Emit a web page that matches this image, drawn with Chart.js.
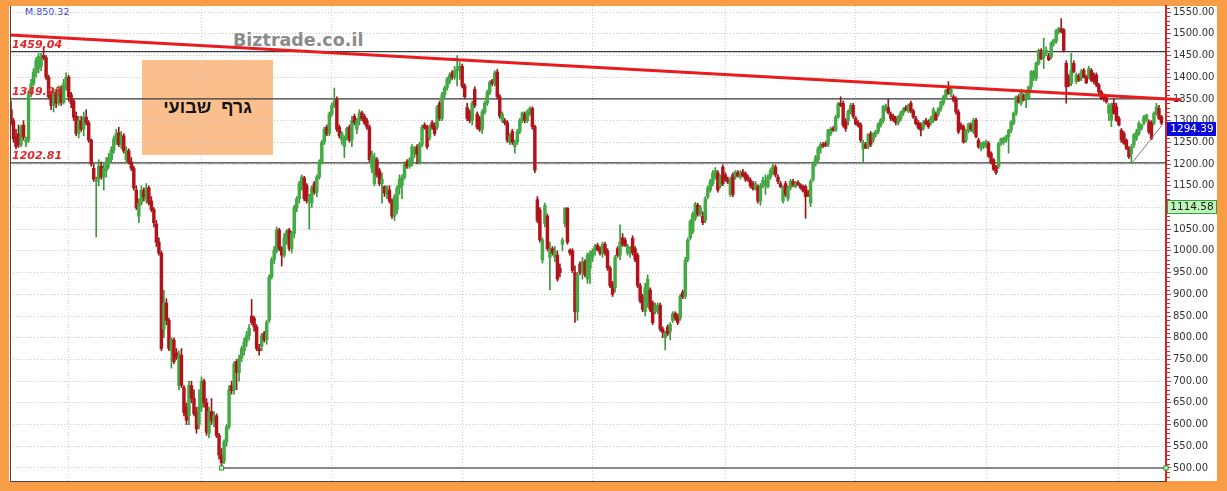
<!DOCTYPE html>
<html><head><meta charset="utf-8">
<script src="https://cdn.jsdelivr.net/npm/chart.js@4.4.1/dist/chart.umd.min.js"></script>
<style>
html,body{margin:0;padding:0;background:#f89c45;width:1227px;height:491px;overflow:hidden;}
#panel{position:absolute;left:9px;top:6px;width:1208px;height:475px;background:#fff;overflow:hidden;}
#mtext{position:absolute;left:16px;top:0px;font:9.5px "DejaVu Sans";color:#3c3cd0;white-space:nowrap;}
#wm{position:absolute;left:224px;top:24px;font:bold 17.5px "DejaVu Sans";color:#8b8b8b;white-space:nowrap;}
#box{position:absolute;left:133px;top:54px;width:131px;height:95px;background:#fbbf8d;display:flex;align-items:center;justify-content:center;font:bold 18px "Liberation Sans";color:#111;}
canvas{position:absolute;left:0;top:0;}
</style></head>
<body>
<div id="panel"><div id="mtext">M.850.32</div><div id="wm">Biztrade.co.il</div><div id="box" dir="rtl">גרף&nbsp;&nbsp;שבועי</div></div>
<canvas id="c" width="1227" height="491"></canvas>
<script>
// ---- weekly OHLC data ----
const opens = [
1325,1300,1262,1270,1245,1290,1250,1255,1362,1385,
1410,1420,1425,1450,1445,1400,1360,1335,1365,1340,
1372,1342,1380,1400,1360,1345,1310,1270,1300,1280,
1308,1295,1255,1190,1160,1165,1195,1170,1185,1200,
1210,1232,1255,1272,1245,1265,1210,1230,1205,1190,
1140,1080,1110,1140,1120,1145,1115,1095,1062,1020,
995,820,880,840,770,795,765,690,760,685,
640,620,690,660,630,600,640,700,650,580,
630,605,620,575,530,515,560,595,690,680,
745,720,752,770,790,805,850,845,825,775,
780,810,795,840,940,980,1000,1048,1005,990,
1030,1048,1005,1040,1100,1120,1150,1168,1150,1115,
1110,1155,1135,1170,1205,1250,1285,1270,1315,1335,
1350,1285,1255,1240,1260,1285,1255,1310,1280,1300,
1318,1310,1300,1285,1190,1155,1210,1185,1155,1148,
1130,1140,1115,1080,1095,1145,1150,1170,1205,1195,
1200,1225,1240,1205,1245,1290,1286,1260,1295,1290,
1285,1340,1305,1360,1375,1390,1410,1400,1415,1415,
1425,1380,1330,1320,1300,1372,1315,1305,1280,1320,
1340,1365,1392,1385,1412,1355,1300,1300,1295,1250,
1275,1240,1250,1275,1300,1315,1300,1318,1328,1286,
1118,1094,979,1063,1080,985,1005,985,990,960,
1015,1063,1098,1002,1000,950,860,970,950,975,
935,960,985,1000,1013,1005,994,1015,1000,960,
925,915,1005,990,1030,1025,995,995,1029,1005,
990,920,895,860,880,910,880,860,862,875,
820,800,825,815,840,856,850,845,905,895,
980,1030,1045,1075,1105,1085,1080,1070,1125,1140,
1155,1170,1180,1150,1193,1175,1165,1130,1175,1170,
1180,1170,1182,1178,1170,1163,1155,1145,1148,1115,
1150,1150,1148,1170,1180,1193,1170,1155,1115,1155,
1120,1145,1160,1148,1158,1152,1148,1148,1135,1110,
1165,1200,1210,1235,1245,1248,1245,1270,1282,1278,
1308,1340,1340,1300,1300,1320,1335,1305,1295,1290,
1235,1245,1240,1270,1255,1268,1275,1290,1300,1328,
1330,1315,1310,1305,1295,1305,1318,1330,1322,1340,
1322,1305,1295,1290,1282,1300,1298,1295,1300,1315,
1315,1328,1340,1355,1378,1362,1355,1351,1320,1290,
1286,1255,1278,1290,1274,1301,1255,1237,1240,1241,
1248,1225,1210,1194,1194,1248,1250,1255,1263,1278,
1294,1317,1355,1340,1358,1350,1351,1378,1398,1397,
1432,1462,1445,1455,1450,1447,1478,1482,1505,1512,
1509,1432,1401,1386,1432,1390,1403,1397,1416,1401,
1401,1416,1405,1405,1382,1366,1358,1353,1317,1301,
1340,1332,1305,1278,1271,1255,1236,1224,1244,1259,
1271,1282,1294,1302,1297,1297,1294,1317,1328,1309];
const highs = [
1345,1305,1280,1290,1290,1300,1262,1365,1395,1420,
1445,1455,1455,1468,1450,1405,1365,1375,1372,1380,
1380,1395,1410,1405,1365,1350,1320,1310,1310,1320,
1325,1300,1258,1200,1170,1210,1205,1200,1215,1225,
1240,1265,1280,1285,1275,1270,1240,1235,1215,1195,
1150,1120,1150,1145,1155,1150,1125,1100,1070,1030,
1000,910,890,845,800,800,775,770,775,690,
650,700,700,680,640,680,710,705,660,640,
660,630,625,580,545,565,600,690,700,745,
750,760,780,800,815,830,888,850,830,785,
810,815,840,945,985,1010,1055,1052,1010,1040,
1050,1052,1045,1105,1125,1160,1175,1172,1155,1130,
1150,1160,1175,1210,1255,1285,1290,1320,1340,1375,
1355,1290,1275,1265,1285,1290,1310,1315,1305,1325,
1322,1315,1305,1290,1230,1225,1215,1190,1180,1150,
1150,1150,1120,1130,1150,1175,1175,1205,1210,1215,
1245,1240,1245,1250,1290,1295,1290,1290,1300,1295,
1335,1345,1365,1380,1400,1410,1415,1425,1450,1435,
1430,1385,1340,1325,1345,1378,1320,1310,1325,1345,
1370,1392,1395,1415,1418,1360,1320,1305,1300,1270,
1280,1255,1280,1305,1320,1320,1325,1332,1332,1290,
1125,1100,1030,1110,1085,1020,1010,1010,1000,970,
1030,1100,1100,1005,1005,965,950,975,985,980,
995,1000,1005,1015,1018,1010,1020,1020,1005,965,
930,990,1010,1060,1040,1030,1015,1010,1035,1010,
995,925,900,925,945,915,885,880,880,880,
825,815,830,835,860,860,855,900,910,985,
1030,1072,1090,1112,1110,1105,1090,1125,1150,1165,
1185,1192,1185,1175,1198,1180,1170,1170,1180,1185,
1185,1185,1188,1182,1175,1168,1160,1160,1152,1155,
1170,1175,1175,1190,1200,1198,1175,1160,1150,1160,
1150,1165,1165,1160,1162,1155,1152,1152,1140,1165,
1205,1220,1240,1250,1250,1252,1280,1285,1286,1312,
1342,1355,1345,1305,1325,1340,1340,1310,1300,1295,
1255,1250,1270,1275,1272,1278,1295,1305,1335,1338,
1350,1320,1315,1310,1312,1322,1330,1335,1338,1345,
1326,1310,1300,1295,1300,1305,1302,1310,1330,1320,
1330,1345,1358,1372,1390,1378,1360,1355,1325,1295,
1290,1280,1295,1295,1305,1305,1260,1250,1252,1255,
1252,1228,1213,1197,1250,1260,1262,1266,1280,1300,
1320,1357,1360,1372,1362,1365,1380,1415,1416,1435,
1465,1466,1490,1470,1455,1482,1488,1510,1515,1535,
1512,1438,1406,1455,1438,1410,1408,1418,1420,1405,
1425,1420,1410,1410,1386,1370,1362,1357,1340,1340,
1350,1340,1310,1282,1275,1258,1240,1245,1270,1280,
1298,1292,1312,1315,1302,1300,1320,1340,1335,1312];
const lows = [
1290,1250,1235,1238,1240,1255,1240,1250,1355,1380,
1400,1410,1415,1440,1395,1350,1325,1320,1330,1335,
1335,1338,1370,1345,1330,1300,1265,1260,1275,1265,
1290,1250,1195,1160,1032,1150,1165,1140,1170,1190,
1205,1225,1245,1240,1235,1225,1205,1200,1185,1140,
1095,1065,1105,1115,1110,1105,1090,1055,1010,990,
770,800,830,770,730,740,750,680,685,620,
600,600,650,620,580,590,630,640,575,570,
600,595,570,520,501,510,550,590,670,670,
680,700,745,760,780,795,830,815,770,760,
770,790,785,835,935,970,995,1000,965,985,
1015,1000,995,1030,1090,1110,1140,1115,1110,1050,
1100,1130,1125,1165,1200,1245,1265,1265,1310,1330,
1275,1260,1245,1215,1255,1250,1240,1290,1270,1290,
1300,1290,1280,1205,1180,1150,1170,1150,1110,1125,
1120,1110,1075,1070,1085,1130,1120,1165,1190,1190,
1195,1215,1200,1200,1240,1280,1235,1255,1280,1265,
1280,1300,1300,1350,1370,1385,1395,1395,1380,1395,
1375,1350,1300,1295,1290,1330,1280,1275,1270,1315,
1335,1360,1380,1380,1350,1305,1295,1290,1250,1245,
1245,1225,1245,1270,1295,1295,1295,1312,1280,1180,
1065,1020,972,1055,1000,910,990,975,930,940,
1000,1055,1015,990,950,835,840,945,935,940,
925,925,975,990,1000,990,985,990,955,915,
895,905,985,980,1010,1010,990,985,990,975,
915,880,860,850,870,860,830,855,855,815,
800,772,805,795,835,840,830,840,890,890,
975,1025,1040,1070,1080,1080,1060,1065,1120,1135,
1150,1165,1135,1145,1150,1160,1155,1125,1125,1165,
1170,1165,1170,1160,1160,1145,1140,1140,1110,1105,
1145,1130,1145,1165,1175,1170,1155,1145,1110,1125,
1115,1140,1148,1145,1150,1142,1135,1075,1125,1102,
1160,1195,1205,1225,1238,1240,1240,1265,1275,1275,
1305,1332,1285,1275,1290,1315,1305,1290,1285,1250,
1205,1235,1235,1240,1250,1262,1270,1285,1295,1322,
1315,1300,1298,1290,1290,1300,1312,1322,1318,1318,
1305,1290,1280,1265,1278,1290,1282,1290,1295,1300,
1310,1322,1335,1350,1360,1355,1343,1315,1270,1280,
1248,1250,1272,1275,1270,1260,1236,1230,1235,1237,
1215,1200,1185,1176,1190,1243,1245,1250,1225,1272,
1290,1312,1340,1335,1345,1330,1348,1372,1392,1392,
1428,1440,1420,1450,1438,1442,1472,1478,1500,1502,
1458,1340,1378,1380,1410,1385,1390,1392,1398,1385,
1396,1390,1385,1378,1362,1348,1345,1340,1300,1286,
1315,1298,1288,1250,1245,1233,1213,1201,1238,1254,
1266,1278,1290,1298,1270,1256,1290,1312,1302,1290];
const closes = [
1295,1258,1240,1245,1285,1262,1255,1360,1385,1412,
1438,1448,1445,1445,1400,1355,1335,1365,1340,1372,
1342,1385,1400,1355,1340,1308,1270,1300,1280,1308,
1295,1255,1200,1165,1162,1195,1170,1190,1205,1215,
1232,1258,1270,1245,1265,1230,1232,1205,1190,1145,
1100,1110,1140,1125,1145,1110,1095,1065,1020,995,
775,880,840,775,795,745,755,760,690,628,
610,690,660,625,590,640,700,650,582,630,
610,620,575,530,512,560,595,680,678,740,
720,752,775,790,805,822,835,825,775,770,
805,795,835,940,980,1002,1048,1005,990,1030,
1045,1005,1040,1100,1120,1155,1170,1120,1115,1125,
1145,1135,1170,1205,1250,1280,1270,1315,1335,1345,
1280,1265,1270,1260,1282,1255,1300,1295,1300,1318,
1305,1295,1285,1210,1220,1215,1175,1155,1165,1133,
1145,1115,1080,1125,1145,1165,1170,1200,1195,1210,
1240,1235,1222,1245,1285,1283,1240,1285,1285,1270,
1330,1305,1360,1375,1395,1405,1400,1415,1420,1425,
1380,1355,1305,1300,1340,1335,1285,1280,1320,1340,
1365,1388,1385,1410,1355,1310,1315,1295,1255,1265,
1250,1250,1275,1300,1318,1300,1320,1328,1286,1186,
1070,1025,1025,1105,1005,1005,995,1000,935,950,
1025,1098,1020,995,955,860,945,950,975,945,
990,995,1000,1010,1003,995,1015,995,960,920,
900,985,990,1020,1015,1012,1010,1008,995,980,
920,885,865,915,935,865,835,875,873,820,
812,810,810,830,855,845,835,895,895,978,
1025,1068,1085,1108,1085,1100,1065,1120,1145,1160,
1180,1185,1140,1170,1155,1165,1158,1165,1130,1182,
1173,1178,1173,1165,1163,1150,1143,1155,1115,1150,
1163,1160,1170,1185,1195,1175,1160,1148,1145,1130,
1145,1160,1152,1155,1153,1145,1138,1125,1128,1160,
1200,1215,1235,1245,1241,1243,1278,1280,1278,1308,
1338,1335,1290,1282,1322,1335,1310,1292,1288,1255,
1250,1238,1268,1245,1270,1275,1292,1302,1332,1334,
1318,1305,1302,1295,1308,1318,1325,1325,1335,1322,
1308,1293,1283,1278,1295,1293,1286,1305,1325,1302,
1328,1343,1355,1370,1363,1372,1347,1320,1274,1282,
1251,1278,1293,1280,1301,1263,1240,1248,1248,1252,
1218,1203,1188,1180,1247,1258,1260,1263,1278,1297,
1317,1355,1343,1370,1348,1362,1378,1413,1413,1432,
1462,1443,1462,1462,1440,1478,1486,1508,1512,1505,
1462,1378,1382,1416,1413,1405,1393,1413,1401,1387,
1420,1393,1390,1382,1366,1351,1350,1343,1336,1336,
1317,1301,1290,1255,1248,1236,1217,1240,1267,1274,
1294,1290,1309,1313,1274,1259,1317,1332,1305,1294.39];

// axis ticks, levels and drawn lines
const yTickValues = [500,550,600,650,700,750,800,850,900,950,1000,1050,1100,1150,1200,1250,1300,1350,1400,1450,1500,1550];
const yearTicks = [23,76,128,180,232,285,337,389,442];
const levelValues = [1459.04, 1349.93, 1202.81];
const levelLabels = ['1459.04', '1349.93', '1202.81'];
const trendLine = [{x:-0.4, y:1497}, {x:467, y:1348}];
const supportLine = [{x:447, y:1201}, {x:459, y:1288}];
const baseLine = [{x:84, y:500}, {x:460.8, y:500}];
const lastPrice = 1294.39;
const markPrice = 1114.58;
const X_MIN = -0.4, X_MAX = 460.8, Y_MIN = 470, Y_MAX = 1564;

const weekIndex = opens.map((_, i) => i);
const isUp = i => closes[i] >= opens[i];

const overlay = {
  id: 'overlay',
  afterDraw(chart) {
    const {ctx, chartArea: a, scales: {y}} = chart;
    ctx.save();
    ctx.strokeStyle = '#444'; ctx.lineWidth = 1;
    ctx.beginPath();
    ctx.moveTo(a.left + 0.5, a.top); ctx.lineTo(a.left + 0.5, a.bottom + 0.5);
    ctx.lineTo(a.right, a.bottom + 0.5);
    ctx.stroke();
    ctx.strokeStyle = '#d02828'; ctx.lineWidth = 1;
    for (let v = 480; v <= 1560; v += 10) {
      if (v % 50 === 0) continue;
      const py = Math.round(y.getPixelForValue(v)) + 0.5;
      ctx.beginPath(); ctx.moveTo(a.right + 1, py); ctx.lineTo(a.right + 4, py); ctx.stroke();
    }
    ctx.font = 'italic bold 11px "DejaVu Sans"';
    ctx.fillStyle = '#e3242b';
    ctx.textBaseline = 'alphabetic';
    ctx.textAlign = 'left';
    levelValues.forEach((v, k) => {
      ctx.fillText(levelLabels[k], a.left + 2, y.getPixelForValue(v) - 3.5);
    });
    const box = (v, fill, stroke, color) => {
      const py = Math.round(y.getPixelForValue(v));
      ctx.fillStyle = fill;
      ctx.fillRect(a.right + 1, py - 1, 49, 14);
      if (stroke) { ctx.strokeStyle = stroke; ctx.lineWidth = 1; ctx.strokeRect(a.right + 1.5, py - 0.5, 49, 13); }
      ctx.fillStyle = color;
      ctx.font = '10.5px "DejaVu Sans"';
      ctx.textAlign = 'center'; ctx.textBaseline = 'middle';
      ctx.fillText(v.toFixed(2), a.right + 26, py + 6);
    };
    box(lastPrice, '#0a0adc', null, '#ffffff');
    box(markPrice, '#bdf6bb', '#3f9c3f', '#1a1a1a');
    ctx.restore();
  }
};

const levelDatasets = levelValues.map(v => ({
  type: 'line', data: [{x: X_MIN, y: v}, {x: X_MAX, y: v}],
  borderColor: '#3a3a3a', borderWidth: 1.2, pointRadius: 0, order: 3
}));

new Chart(document.getElementById('c'), {
  type: 'bar',
  data: {
    datasets: [
      {type: 'line', data: trendLine, borderColor: '#e81c1c', borderWidth: 3, pointRadius: 0, order: 0, clip: false},
      {type: 'line', data: supportLine, borderColor: '#7a7a7a', borderWidth: 1, pointRadius: 0, order: 0},
      {type: 'line', data: baseLine, borderColor: '#666', borderWidth: 1.5, pointStyle: 'rect', pointRadius: 3,
        pointBackgroundColor: '#c9f1c0', pointBorderColor: '#2f8f2f', pointBorderWidth: 1, order: 0, clip: false},
      ...levelDatasets,
      {label: 'body', data: weekIndex.map(i => ({x: i, y: [opens[i], closes[i]]})),
        backgroundColor: ctx => isUp(ctx.dataIndex) ? '#44ab44' : '#b3121a',
        barThickness: 2.8, minBarLength: 1, grouped: false, borderWidth: 0, order: 1},
      {label: 'wick', data: weekIndex.map(i => ({x: i, y: [lows[i], highs[i]]})),
        backgroundColor: ctx => isUp(ctx.dataIndex) ? '#3d963d' : '#8e1c1c',
        barThickness: 1, grouped: false, borderWidth: 0, order: 2}
    ]
  },
  options: {
    responsive: false, animation: false, devicePixelRatio: 1,
    layout: {padding: {left: 10, top: 6, right: 10, bottom: 10}},
    plugins: {legend: {display: false}, tooltip: {enabled: false}},
    scales: {
      x: {
        type: 'linear', min: X_MIN, max: X_MAX, offset: false,
        ticks: {display: false},
        grid: {color: '#cfcfcf', drawTicks: false, offset: false},
        border: {display: false, dash: [1, 2]},
        afterBuildTicks: s => { s.ticks = yearTicks.map(v => ({value: v})); },
        afterFit: s => { s.height = 0; s.paddingLeft = 0; s.paddingRight = 0; }
      },
      y: {
        type: 'linear', position: 'right', min: Y_MIN, max: Y_MAX, beginAtZero: false,
        afterBuildTicks: s => { s.ticks = yTickValues.map(v => ({value: v})); },
        afterFit: s => { s.width = 51; s.paddingTop = 0; s.paddingBottom = 0; },
        ticks: {callback: v => Number(v).toFixed(2), font: {family: 'DejaVu Sans', size: 10}, color: '#333', padding: 2, autoSkip: false},
        grid: {color: '#c8c8c8', lineWidth: 1, drawTicks: true, tickLength: 5, tickColor: '#666', tickWidth: 1},
        border: {display: true, color: '#d42424', width: 2, dash: [1, 2]}
      }
    }
  },
  plugins: [overlay]
});
</script>
</body></html>
